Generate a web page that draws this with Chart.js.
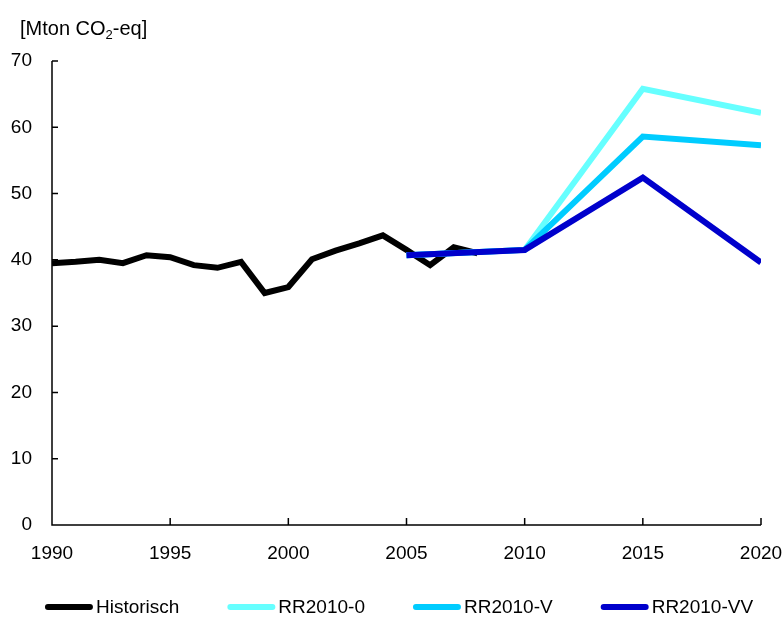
<!DOCTYPE html>
<html>
<head>
<meta charset="utf-8">
<script src="https://cdn.jsdelivr.net/npm/chart.js@4/dist/chart.umd.min.js"></script>
<style>
html,body{margin:0;padding:0;background:#fff;}
#wrap{width:784px;height:617px;}
</style>
</head>
<body>
<div id="wrap"><canvas id="c" width="784" height="617"></canvas></div>
<script>
const histYears = [1990,1991,1992,1993,1994,1995,1996,1997,1998,1999,2000,2001,2002,2003,2004,2005,2006,2007,2008];
const histValues = [39.5,39.7,40.0,39.5,40.7,40.4,39.2,38.8,39.7,35.0,35.9,40.1,41.4,42.5,43.7,41.5,39.2,41.9,41.0];
const scenYears = [2005,2010,2015,2020];
const rr0Values = [40.7,41.5,65.8,62.2];
const rrVValues = [40.7,41.5,58.6,57.3];
const rrVVValues = [40.7,41.5,52.4,39.6];
const xTicks = [1990,1995,2000,2005,2010,2015,2020];
const yTicks = [0,10,20,30,40,50,60,70];
const unitLabel = ['[Mton CO','2','-eq]'];

const FONT = 'Liberation Sans, Arial, sans-serif';
const FS = 19;
const toPts = (xs, ys) => xs.map((x,i)=>({x:x, y:ys[i]}));

const decor = {
  id:'decor',
  afterDraw(chart){
    const ctx = chart.ctx, xs = chart.scales.x, ys = chart.scales.y, a = chart.chartArea;
    ctx.save();
    ctx.strokeStyle = '#000'; ctx.lineWidth = 1.5;
    ctx.beginPath();
    ctx.moveTo(a.left, a.top); ctx.lineTo(a.left, a.bottom); ctx.lineTo(a.right, a.bottom);
    xTicks.forEach(v=>{ const px = xs.getPixelForValue(v); ctx.moveTo(px, a.bottom); ctx.lineTo(px, a.bottom-7); });
    yTicks.forEach(v=>{ const py = ys.getPixelForValue(v); ctx.moveTo(a.left, py); ctx.lineTo(a.left+6, py); });
    ctx.stroke();
    // unit label with subscript
    ctx.fillStyle = '#000';
    ctx.textBaseline = 'alphabetic';
    ctx.font = '20px ' + FONT;
    let x = 20, y = 35;
    ctx.fillText(unitLabel[0], x, y); x += ctx.measureText(unitLabel[0]).width;
    ctx.font = '13px ' + FONT;
    ctx.fillText(unitLabel[1], x, y+4); x += ctx.measureText(unitLabel[1]).width;
    ctx.font = '20px ' + FONT;
    ctx.fillText(unitLabel[2], x, y);
    // legend
    const ds = chart.data.datasets;
    const lineLen = 48, textGap = 3, itemGap = 48, ly = 607;
    ctx.font = FS + 'px ' + FONT;
    const widths = ds.map(d => lineLen + textGap + ctx.measureText(d.label).width);
    const total = widths.reduce((s,w)=>s+w,0) + itemGap*(ds.length-1);
    let lx = 399 - total/2;
    ctx.textBaseline = 'middle';
    ds.forEach((d,i)=>{
      ctx.strokeStyle = d.borderColor; ctx.lineWidth = 6; ctx.lineCap = 'round';
      ctx.beginPath(); ctx.moveTo(lx+3, ly); ctx.lineTo(lx+lineLen-3, ly); ctx.stroke();
      ctx.fillStyle = '#000';
      ctx.fillText(d.label, lx + lineLen + textGap, ly+1);
      lx += widths[i] + itemGap;
    });
    ctx.restore();
  }
};

new Chart(document.getElementById('c'), {
  type:'line',
  data:{
    datasets:[
      {label:'Historisch', data:toPts(histYears,histValues), borderColor:'#000000', backgroundColor:'#000000', order:4},
      {label:'RR2010-0', data:toPts(scenYears,rr0Values), borderColor:'#66FFFF', backgroundColor:'#66FFFF', order:3},
      {label:'RR2010-V', data:toPts(scenYears,rrVValues), borderColor:'#00CCFF', backgroundColor:'#00CCFF', order:2},
      {label:'RR2010-VV', data:toPts(scenYears,rrVVValues), borderColor:'#0000CC', backgroundColor:'#0000CC', order:1}
    ]
  },
  options:{
    responsive:false,
    animation:false,
    devicePixelRatio:1,
    elements:{ line:{borderWidth:6, tension:0, borderJoinStyle:'miter', borderCapStyle:'butt'}, point:{radius:0} },
    layout:{ padding:{left:0, right:23, top:61, bottom:0} },
    plugins:{
      tooltip:{enabled:false},
      legend:{ display:false }
    },
    scales:{
      x:{ type:'linear', min:1990, max:2020,
        afterFit(s){ s.height = 92; s.paddingRight = 0; s.paddingLeft = 0; },
        afterBuildTicks(s){ s.ticks = xTicks.map(v=>({value:v})); },
        grid:{display:false, drawTicks:false}, border:{display:false},
        ticks:{ font:{family:FONT, size:FS}, color:'#000', padding:17, maxRotation:0, autoSkip:false,
          callback:(v)=>String(v) }
      },
      y:{ min:0, max:70,
        afterFit(s){ s.width = 52; s.paddingTop = 0; s.paddingBottom = 0; },
        afterBuildTicks(s){ s.ticks = yTicks.map(v=>({value:v})); },
        grid:{display:false, drawTicks:false}, border:{display:false},
        ticks:{ font:{family:FONT, size:FS}, color:'#000', padding:20, callback:(v)=>String(v) }
      }
    }
  },
  plugins:[decor]
});
</script>
</body>
</html>
